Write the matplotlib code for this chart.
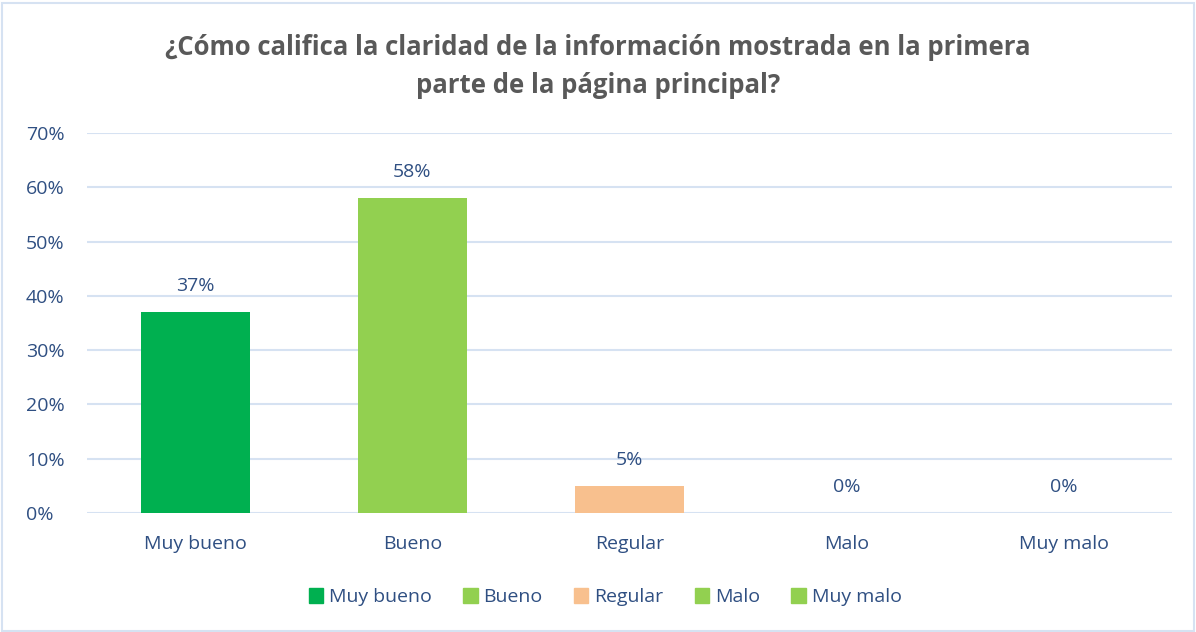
import matplotlib.pyplot as plt
import matplotlib.patheffects as pe
from matplotlib.patches import Rectangle, Patch
from matplotlib.ticker import FuncFormatter

categorias = ["Muy bueno", "Bueno", "Regular", "Malo", "Muy malo"]
valores = [37, 58, 5, 0, 0]
colores = ["#00B050", "#92D050", "#F8C08E", "#92D050", "#92D050"]
titulo = "¿Cómo califica la claridad de la información mostrada en la primera\nparte de la página principal?"

azul = "#2F4F82"
plt.rcParams['font.family'] = ['Open Sans', 'DejaVu Sans']

fig = plt.figure(figsize=(11.96, 6.32), dpi=100)
ax = fig.add_axes([0.0727, 0.1883, 0.9073, 0.6013])

x = range(len(categorias))
bars = ax.bar(x, valores, width=0.5, color=colores, zorder=3)
for b in bars:
    b.set_path_effects([pe.SimplePatchShadow(offset=(0, -2), shadow_rgbFace="#999999", alpha=0.5), pe.Normal()])

for i, v in enumerate(valores):
    ax.annotate(f"{v}%", (i, v), xytext=(0, 12), textcoords="offset points",
                ha="center", va="bottom", fontsize=14, color=azul)

ax.set_xlim(-0.5, len(categorias) - 0.5)
ax.set_ylim(0, 70)
ax.set_yticks(range(0, 71, 10))
ax.yaxis.set_major_formatter(FuncFormatter(lambda v, p: f"{int(v)}%"))
ax.set_xticks(list(x))
ax.set_xticklabels(categorias)
ax.tick_params(axis="both", length=0, labelsize=14, labelcolor=azul)
ax.tick_params(axis="x", pad=16)
ax.tick_params(axis="y", pad=44)
for lbl in ax.get_yticklabels():
    lbl.set_horizontalalignment("left")
ax.grid(axis="y", color="#D6E2F2", linewidth=1.5, zorder=0)
for s in ax.spines.values():
    s.set_visible(False)

fig.text(0.5, 0.895, titulo, ha="center", va="center", fontsize=18.5, fontweight="bold",
         color="#595959", linespacing=1.55)

handles = [Patch(color=c, label=l) for c, l in zip(colores, categorias)]
fig.legend(handles=handles, loc="center", bbox_to_anchor=(0.506, 0.055), ncol=5, frameon=False,
           fontsize=14, labelcolor=azul, handlelength=0.75, handleheight=0.75, handletextpad=0.3,
           columnspacing=1.6)

fig.patches.append(Rectangle((0.002, 0.002), 0.996, 0.994, transform=fig.transFigure,
                             fill=False, edgecolor="#D6E2F2", linewidth=1.5))

fig.savefig("out.png", dpi=100)
